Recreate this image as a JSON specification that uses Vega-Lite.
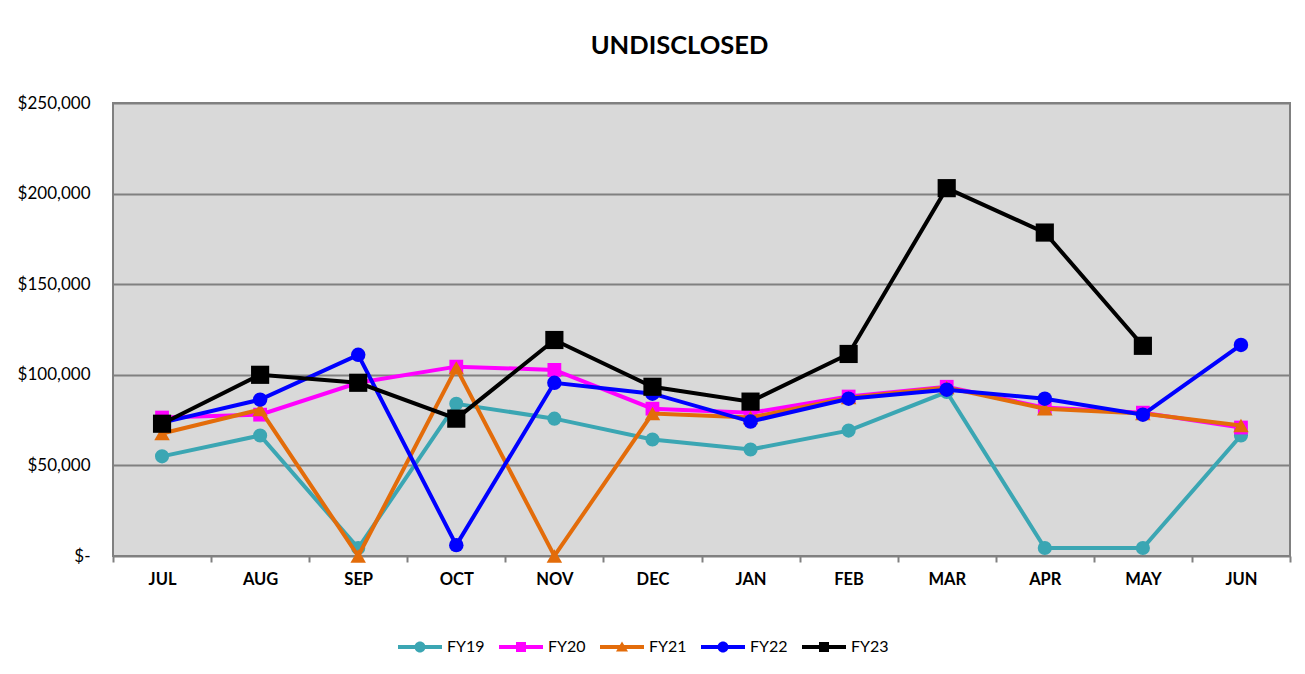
{
  "$schema": "https://vega.github.io/schema/vega-lite/v6.json",
  "width": 1177,
  "height": 453,
  "autosize": {"type": "none"},
  "padding": {"left": 113, "top": 103, "right": 15, "bottom": 118},
  "background": "#ffffff",
  "title": {"text": "UNDISCLOSED", "fontSize": 25.5, "fontWeight": "bold", "font": "Lato", "color": "#000000", "anchor": "middle", "dx": -22, "offset": 15, "baseline": "alphabetic"},
  "config": {
    "view": {"fill": "#d9d9d9", "stroke": "#808080", "strokeWidth": 2},
    "font": "Lato"
  },
  "data": {"values": [
    {"month": "JUL", "series": "FY19", "value": 55000},
    {"month": "AUG", "series": "FY19", "value": 66500},
    {"month": "SEP", "series": "FY19", "value": 4400},
    {"month": "OCT", "series": "FY19", "value": 84000},
    {"month": "NOV", "series": "FY19", "value": 75800},
    {"month": "DEC", "series": "FY19", "value": 64300},
    {"month": "JAN", "series": "FY19", "value": 58800},
    {"month": "FEB", "series": "FY19", "value": 69200},
    {"month": "MAR", "series": "FY19", "value": 90500},
    {"month": "APR", "series": "FY19", "value": 4400},
    {"month": "MAY", "series": "FY19", "value": 4400},
    {"month": "JUN", "series": "FY19", "value": 66500},
    {"month": "JUL", "series": "FY20", "value": 76400},
    {"month": "AUG", "series": "FY20", "value": 78000},
    {"month": "SEP", "series": "FY20", "value": 95600},
    {"month": "OCT", "series": "FY20", "value": 104500},
    {"month": "NOV", "series": "FY20", "value": 102700},
    {"month": "DEC", "series": "FY20", "value": 81300},
    {"month": "JAN", "series": "FY20", "value": 79000},
    {"month": "FEB", "series": "FY20", "value": 88000},
    {"month": "MAR", "series": "FY20", "value": 93400},
    {"month": "APR", "series": "FY20", "value": 81900},
    {"month": "MAY", "series": "FY20", "value": 79100},
    {"month": "JUN", "series": "FY20", "value": 70900},
    {"month": "JUL", "series": "FY21", "value": 67600},
    {"month": "AUG", "series": "FY21", "value": 80800},
    {"month": "SEP", "series": "FY21", "value": 0},
    {"month": "OCT", "series": "FY21", "value": 103800},
    {"month": "NOV", "series": "FY21", "value": 0},
    {"month": "DEC", "series": "FY21", "value": 78600},
    {"month": "JAN", "series": "FY21", "value": 76400},
    {"month": "FEB", "series": "FY21", "value": 87400},
    {"month": "MAR", "series": "FY21", "value": 93000},
    {"month": "APR", "series": "FY21", "value": 81300},
    {"month": "MAY", "series": "FY21", "value": 78600},
    {"month": "JUN", "series": "FY21", "value": 72000},
    {"month": "JUL", "series": "FY22", "value": 73600},
    {"month": "AUG", "series": "FY22", "value": 86300},
    {"month": "SEP", "series": "FY22", "value": 111000},
    {"month": "OCT", "series": "FY22", "value": 6000},
    {"month": "NOV", "series": "FY22", "value": 95600},
    {"month": "DEC", "series": "FY22", "value": 89600},
    {"month": "JAN", "series": "FY22", "value": 74200},
    {"month": "FEB", "series": "FY22", "value": 86800},
    {"month": "MAR", "series": "FY22", "value": 91800},
    {"month": "APR", "series": "FY22", "value": 86800},
    {"month": "MAY", "series": "FY22", "value": 78000},
    {"month": "JUN", "series": "FY22", "value": 116500},
    {"month": "JUL", "series": "FY23", "value": 73000},
    {"month": "AUG", "series": "FY23", "value": 100000},
    {"month": "SEP", "series": "FY23", "value": 95600},
    {"month": "OCT", "series": "FY23", "value": 75800},
    {"month": "NOV", "series": "FY23", "value": 119200},
    {"month": "DEC", "series": "FY23", "value": 93400},
    {"month": "JAN", "series": "FY23", "value": 85200},
    {"month": "FEB", "series": "FY23", "value": 111500},
    {"month": "MAR", "series": "FY23", "value": 203000},
    {"month": "APR", "series": "FY23", "value": 178500},
    {"month": "MAY", "series": "FY23", "value": 116000}
  ]},
  "encoding": {
    "x": {
      "field": "month", "type": "ordinal",
      "sort": ["JUL","AUG","SEP","OCT","NOV","DEC","JAN","FEB","MAR","APR","MAY","JUN"],
      "scale": {"type": "band", "paddingInner": 0, "paddingOuter": 0},
      "axis": {"title": null, "labelAngle": 0, "labelFont": "Lato", "labelFontSize": 16.5, "labelFontWeight": "bold", "labelColor": "#000000", "domain": false, "ticks": true, "tickBand": "extent", "tickColor": "#808080", "tickWidth": 2, "tickSize": 6, "labelPadding": 9, "grid": false}
    },
    "y": {
      "field": "value", "type": "quantitative",
      "scale": {"domain": [0, 250000], "nice": false, "zero": true},
      "axis": {"title": null, "values": [0, 50000, 100000, 150000, 200000, 250000], "labelExpr": "datum.value == 0 ? '$-' : '$' + format(datum.value, ',')", "labelFont": "Lato", "labelFontSize": 17, "labelColor": "#000000", "domain": false, "ticks": false, "labelPadding": 23, "grid": true, "gridColor": "#808080", "gridWidth": 2}
    }
  },
  "layer": [
    {
      "transform": [{"filter": "datum.series == 'FY19'"}],
      "mark": {"type": "line", "strokeWidth": 4, "color": "#3BA6B3", "point": {"filled": true, "shape": "circle", "size": 200, "opacity": 1, "color": "#3BA6B3"}},
      "encoding": {"detail": {"field": "series"}}
    },
    {
      "transform": [{"filter": "datum.series == 'FY20'"}],
      "mark": {"type": "line", "strokeWidth": 4, "color": "#FF00FF", "point": {"filled": true, "shape": "square", "size": 190, "opacity": 1, "color": "#FF00FF"}},
      "encoding": {"detail": {"field": "series"}}
    },
    {
      "transform": [{"filter": "datum.series == 'FY21'"}],
      "mark": {"type": "line", "strokeWidth": 4, "color": "#E36C0A", "point": {"filled": true, "shape": "triangle-up", "size": 240, "opacity": 1, "color": "#E36C0A"}},
      "encoding": {"detail": {"field": "series"}}
    },
    {
      "transform": [{"filter": "datum.series == 'FY22'"}],
      "mark": {"type": "line", "strokeWidth": 4, "color": "#0000FF", "point": {"filled": true, "shape": "circle", "size": 210, "opacity": 1, "color": "#0000FF"}},
      "encoding": {"detail": {"field": "series"}}
    },
    {
      "transform": [{"filter": "datum.series == 'FY23'"}],
      "mark": {"type": "line", "strokeWidth": 4, "color": "#000000", "point": {"filled": true, "shape": "square", "size": 330, "opacity": 1, "color": "#000000"}},
      "encoding": {"detail": {"field": "series"}}
    },
    {
      "transform": [{"filter": "datum.value < 0"}],
      "mark": {"type": "point", "filled": true, "opacity": 1},
      "encoding": {
        "color": {"field": "series", "type": "nominal",
          "scale": {"domain": ["FY19","FY20","FY21","FY22","FY23"], "range": ["#3BA6B3","#FF00FF","#E36C0A","#0000FF","#000000"]},
          "legend": {"orient": "none", "legendX": 297, "legendY": 534, "direction": "horizontal", "title": null, "columns": 5, "symbolSize": 400, "symbolStrokeWidth": 0, "symbolOpacity": 1, "labelFont": "Lato", "labelFontSize": 16, "labelColor": "#000000", "labelOffset": 17, "columnPadding": 14}},
        "shape": {"field": "series", "type": "nominal",
          "scale": {"domain": ["FY19","FY20","FY21","FY22","FY23"], "range": [
            "M-2.2,-0.2L2.2,-0.2L2.2,0.2L-2.2,0.2Z M-0.55,0A0.55,0.55 0 1,1 0.55,0A0.55,0.55 0 1,1 -0.55,0Z",
            "M-2.2,-0.2L2.2,-0.2L2.2,0.2L-2.2,0.2Z M-0.5,-0.5L0.5,-0.5L0.5,0.5L-0.5,0.5Z",
            "M-2.2,-0.2L2.2,-0.2L2.2,0.2L-2.2,0.2Z M0,-0.55L0.6,0.45L-0.6,0.45Z",
            "M-2.2,-0.2L2.2,-0.2L2.2,0.2L-2.2,0.2Z M-0.55,0A0.55,0.55 0 1,1 0.55,0A0.55,0.55 0 1,1 -0.55,0Z",
            "M-2.2,-0.2L2.2,-0.2L2.2,0.2L-2.2,0.2Z M-0.5,-0.5L0.5,-0.5L0.5,0.5L-0.5,0.5Z"
          ]},
          "legend": {"orient": "none", "legendX": 297, "legendY": 534, "direction": "horizontal", "title": null, "columns": 5, "symbolSize": 400, "symbolStrokeWidth": 0, "symbolOpacity": 1, "labelFont": "Lato", "labelFontSize": 16, "labelColor": "#000000", "labelOffset": 17, "columnPadding": 14}}
      }
    }
  ]
}
